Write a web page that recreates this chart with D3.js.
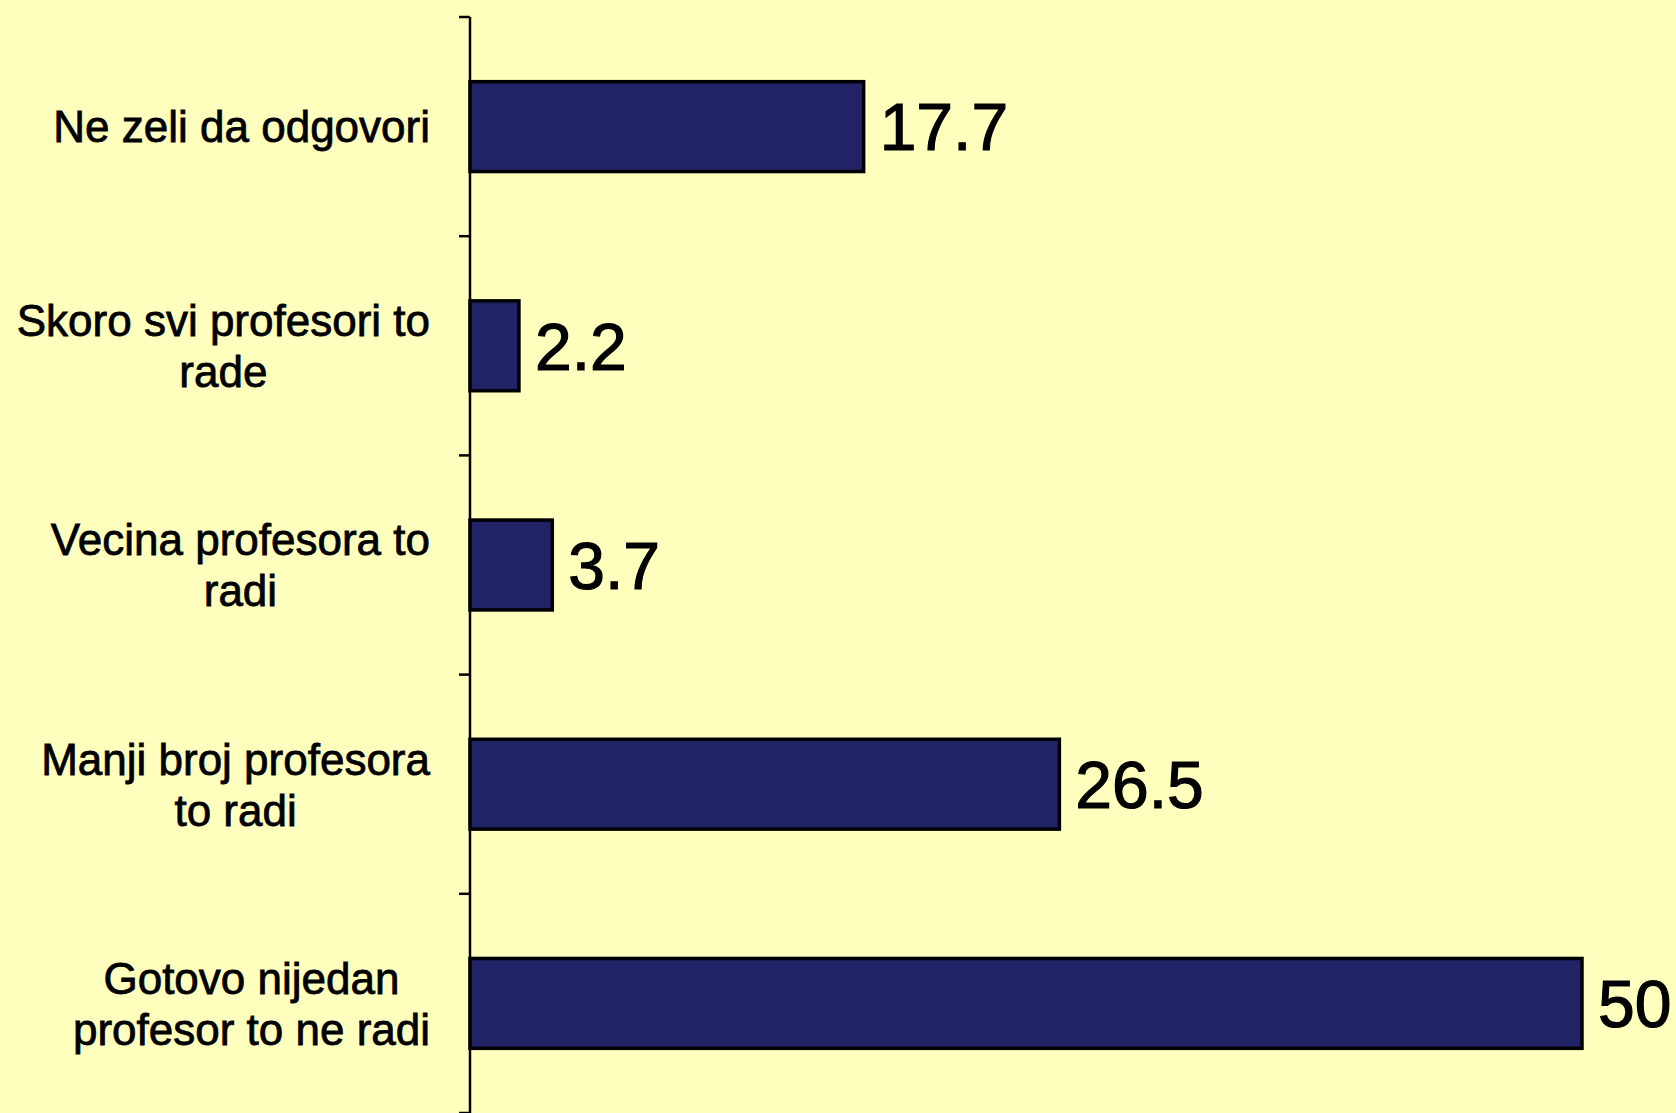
<!DOCTYPE html>
<html><head><meta charset="utf-8">
<script src="https://cdn.jsdelivr.net/npm/d3@7"></script>
<style>html,body{margin:0;padding:0;background:#FFFFBE;overflow:hidden}</style>
</head><body>
<script>
const categories = [
  ["Ne zeli da odgovori"],
  ["Skoro svi profesori to", "rade"],
  ["Vecina profesora to", "radi"],
  ["Manji broj profesora", "to radi"],
  ["Gotovo nijedan", "profesor to ne radi"]
];
const values = [17.7, 2.2, 3.7, 26.5, 50];
const valueLabels = ["17.7", "2.2", "3.7", "26.5", "50"];

const W = 1676, H = 1113;
const svg = d3.select("body").append("svg").attr("width", W).attr("height", H);
svg.append("rect").attr("width", W).attr("height", H).attr("fill", "#FFFFBE");

const x0 = 470;
const x = d3.scaleLinear().domain([0, 50]).range([x0, 1582]);
const y = d3.scaleBand().domain(d3.range(values.length)).range([17, 1113])
  .paddingInner(0.59).paddingOuter(0.295);

// axis line + ticks at band boundaries
const g = svg.append("g");
g.append("line").attr("x1", x0).attr("x2", x0).attr("y1", 17).attr("y2", H)
  .attr("stroke", "#000").attr("stroke-width", 2.5);
const bounds = d3.range(values.length + 1).map(i => 17 + i * y.step());
g.selectAll(".tk").data(bounds).join("line")
  .attr("x1", x0 - 11).attr("x2", x0).attr("y1", d => d).attr("y2", d => d)
  .attr("stroke", "#000").attr("stroke-width", 2.5);

// bars
svg.selectAll(".bar").data(values).join("rect")
  .attr("x", x(0)).attr("y", (d, i) => y(i))
  .attr("width", d => x(d) - x(0)).attr("height", y.bandwidth())
  .attr("fill", "#222266").attr("stroke", "#000").attr("stroke-width", 3.5);

// value labels
svg.selectAll(".vl").data(values).join("text")
  .attr("x", d => x(d) + 16).attr("y", (d, i) => y(i) + y.bandwidth() / 2)
  .attr("dy", "0.36em")
  .attr("font-family", "Liberation Sans, Arial, sans-serif")
  .attr("font-size", 66).attr("fill", "#000")
  .attr("stroke", "#000").attr("stroke-width", 1.2)
  .text((d, i) => valueLabels[i]);

// category labels
const lineH = 51, fs = 44, rightEdge = 430;
categories.forEach((lines, i) => {
  const cy = y(i) + y.bandwidth() / 2;
  const t = svg.append("g");
  const texts = lines.map((ln, j) => t.append("text")
    .attr("y", cy + (j - (lines.length - 1) / 2) * lineH)
    .attr("dy", "0.36em").attr("text-anchor", "middle")
    .attr("font-family", "Liberation Sans, Arial, sans-serif")
    .attr("font-size", fs).attr("fill", "#000")
    .attr("stroke", "#000").attr("stroke-width", 0.8)
    .text(ln));
  const maxW = d3.max(texts, tx => tx.node().getComputedTextLength());
  texts.forEach(tx => tx.attr("x", rightEdge - maxW / 2));
});
</script>
</body></html>
